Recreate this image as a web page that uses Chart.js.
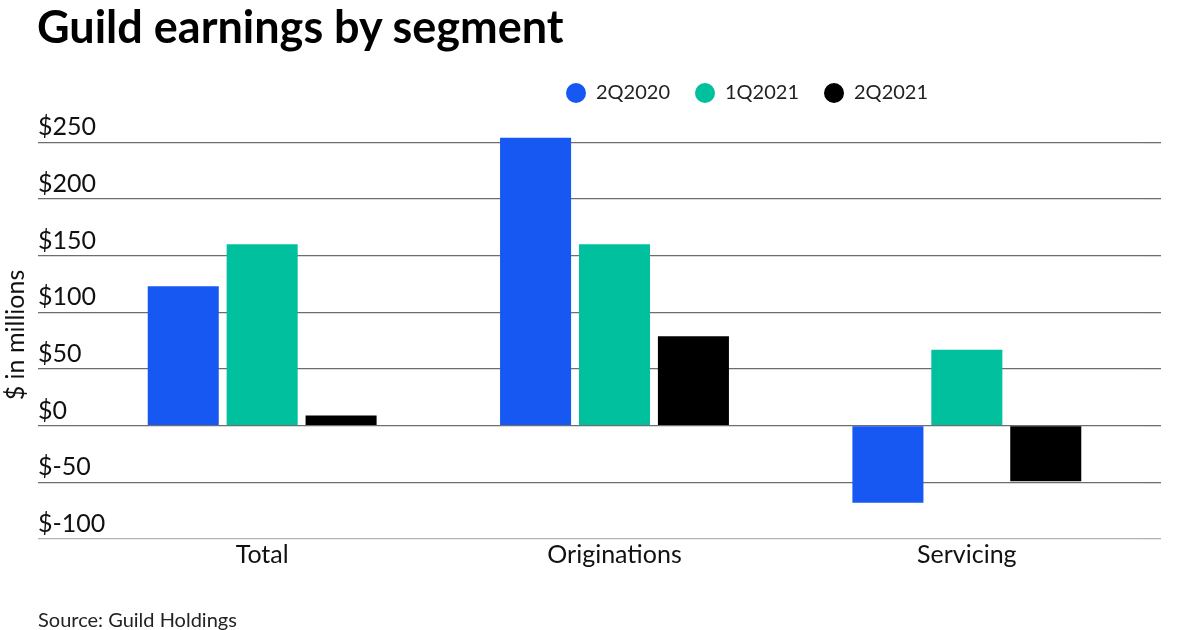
<!DOCTYPE html>
<html lang="en">
<head>
<meta charset="UTF-8">
<title>Guild earnings by segment</title>
<style>
  body{margin:0;background:#fff;font-family:Lato,sans-serif}
  #wrap{position:relative;width:1200px;height:630px;overflow:hidden}
  #titulo{position:absolute;left:37px;top:0;margin:0;font-size:45px;line-height:52px;font-weight:700;color:#000}
  #fuente{position:absolute;left:38px;top:607px;font-size:20px;line-height:24px;color:#222}
  #chart{position:absolute;left:0;top:0}
</style>
</head>
<body>
<div id="wrap">
  <canvas id="chart" width="1200" height="630"></canvas>
  <h1 id="titulo">Guild earnings by segment</h1>
  <div id="fuente">Source: Guild Holdings</div>
</div>

<script src="https://cdn.jsdelivr.net/npm/chart.js@4.4.0"></script>
<script>
/* ---------- Datos ---------- */
const categorias  = ['Total', 'Originations', 'Servicing'];
const serie2Q2020 = [123, 254, -68];
const serie1Q2021 = [160, 160, 67];
const serie2Q2021 = [9, 79, -49];
const ticksY      = [-100, -50, 0, 50, 100, 150, 200, 250];

/* ---------- Estilo ---------- */
const AZUL = '#1758F3', VERDE = '#00C09E', NEGRO = '#000000';
const colorRejilla = c => (c.tick && c.tick.value === -100) ? '#b3b3b3' : '#6e6e6e';
const fijarTicks = s => { s.ticks = ticksY.map(v => ({value: v})); };

// mueve la leyenda a la derecha, como en el original
const moverLeyenda = {
  id: 'moverLeyenda',
  afterLayout(chart){
    const lg = chart.legend;
    const w = lg.width, h = lg.height;
    lg.left = 541; lg.right = lg.left + w;
    lg.top = 58;   lg.bottom = lg.top + h;
  }
};

const grafica = new Chart(document.getElementById('chart'), {
  type: 'bar',
  data: {
    labels: categorias,
    datasets: [
      {label: '2Q2020', data: serie2Q2020, backgroundColor: AZUL},
      {label: '1Q2021', data: serie1Q2021, backgroundColor: VERDE},
      {label: '2Q2021', data: serie2Q2021, backgroundColor: NEGRO}
    ]
  },
  options: {
    responsive: false,
    animation: false,
    categoryPercentage: 0.672,
    barPercentage: 0.9,
    layout: {padding: {left: 0, right: 39, top: 76, bottom: 51}},
    plugins: {
      legend: {
        position: 'top',
        align: 'start',
        labels: {
          usePointStyle: true, pointStyle: 'circle',
          boxHeight: 14.14, pointStyleWidth: 20,
          padding: 25, color: '#222',
          font: {family: 'Lato', size: 20}
        }
      },
      tooltip: {enabled: false}
    },
    scales: {
      x: {
        grid: {display: false, drawTicks: false},
        border: {display: false},
        afterFit: s => { s.height = 40; },
        ticks: {padding: 1, color: '#111', font: {family: 'Lato', size: 25}}
      },
      y: {
        min: -100, max: 260,
        afterBuildTicks: fijarTicks,
        afterFit: s => { s.width = 86; },
        border: {display: false},
        grid: {color: colorRejilla, lineWidth: 1.3, tickLength: 48},
        ticks: {
          mirror: true, padding: -48, crossAlign: 'near', labelOffset: -15,
          color: '#111', font: {family: 'Lato', size: 25},
          callback: v => '$' + v
        },
        title: {
          display: true, text: '$ in millions', color: '#111',
          font: {family: 'Lato', size: 25}, padding: {top: 1, bottom: 0}
        }
      },
      y2: {
        position: 'right',
        min: -100, max: 260,
        afterBuildTicks: fijarTicks,
        afterFit: s => { s.width = 18; },
        border: {display: false},
        grid: {drawOnChartArea: false, color: colorRejilla, lineWidth: 1.3, tickLength: 18},
        ticks: {display: false}
      }
    }
  },
  plugins: [moverLeyenda]
});
console.log('area', JSON.stringify(grafica.chartArea));
</script>
</body>
</html>
